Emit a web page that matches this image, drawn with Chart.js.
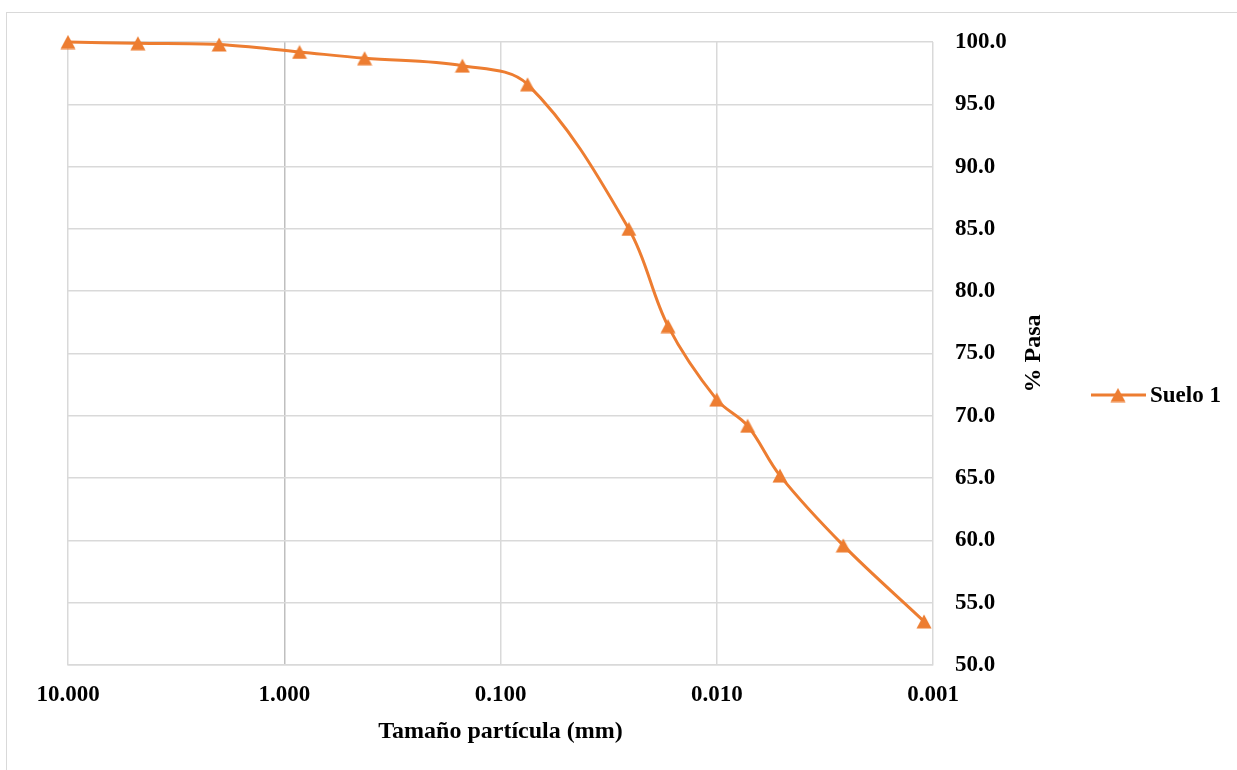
<!DOCTYPE html>
<html>
<head>
<meta charset="utf-8">
<title>Curva granulométrica</title>
<script src="https://cdn.jsdelivr.net/npm/chart.js@4.4.1/dist/chart.umd.min.js"></script>
<style>
  html, body { margin: 0; padding: 0; background: #ffffff; overflow: hidden; }
  #wrap { position: relative; width: 1237px; height: 770px; }
  #frame { position: absolute; left: 6px; top: 12px; width: 1400px; height: 900px;
           border: 1px solid #d9d9d9; box-sizing: border-box; pointer-events: none; }
  #chart { position: absolute; left: 0; top: 0; }
</style>
</head>
<body>
<div id="wrap">
  <div id="frame"></div>
  <canvas id="chart" width="1237" height="770"></canvas>
</div>
<script>
// Particle size (mm) and percent passing for the soil sample
const seriesName = 'Suelo 1';
const particleSize = [10, 4.75, 2.0, 0.85, 0.425, 0.15, 0.075, 0.0255, 0.0168, 0.0100, 0.0072, 0.0051, 0.0026, 0.0011];
const percentPassing = [100.0, 99.9, 99.8, 99.2, 98.7, 98.1, 96.6, 85.0, 77.2, 71.3, 69.2, 65.2, 59.6, 53.5];
const xTickValues = [10, 1, 0.1, 0.01, 0.001];
const yMin = 50, yMax = 100, yStep = 5;

const xTitle = 'Tamaño partícula (mm)';
const yTitle = '% Pasa';

const ORANGE = '#ED7D31';
const GRID = '#d9d9d9';
const FONT = "'Times New Roman', 'Liberation Serif', serif";

// Triangle marker centred in its bounding box
function makeTriangle(w, h) {
  const c = document.createElement('canvas');
  c.width = w; c.height = h;
  const g = c.getContext('2d');
  g.fillStyle = ORANGE;
  g.beginPath();
  g.moveTo(w / 2, 0.5);
  g.lineTo(w - 0.5, h - 0.5);
  g.lineTo(0.5, h - 0.5);
  g.closePath();
  g.fill();
  return c;
}
const marker = makeTriangle(16, 15);

// Rotated y title and the series key on the right
const extras = {
  id: 'extras',
  afterDraw(chart) {
    const ctx = chart.ctx;
    const area = chart.chartArea;
    ctx.save();
    ctx.fillStyle = '#000';
    ctx.font = 'bold 24px ' + FONT;
    ctx.textAlign = 'center';
    ctx.textBaseline = 'middle';
    ctx.translate(1034, (area.top + area.bottom) / 2);
    ctx.rotate(-Math.PI / 2);
    ctx.fillText(yTitle, 0, 0);
    ctx.restore();

    ctx.save();
    const ly = 395;
    ctx.strokeStyle = ORANGE;
    ctx.lineWidth = 3;
    ctx.beginPath();
    ctx.moveTo(1091, ly);
    ctx.lineTo(1146, ly);
    ctx.stroke();
    ctx.drawImage(marker, 1118 - marker.width / 2, ly - marker.height / 2);
    ctx.fillStyle = '#000';
    ctx.font = 'bold 23px ' + FONT;
    ctx.textAlign = 'left';
    ctx.textBaseline = 'middle';
    ctx.fillText(seriesName, 1150, ly + 1);
    ctx.restore();
  }
};

new Chart(document.getElementById('chart'), {
  type: 'line',
  data: {
    datasets: [{
      label: seriesName,
      data: particleSize.map((x, i) => ({ x: x, y: percentPassing[i] })),
      borderColor: ORANGE,
      backgroundColor: ORANGE,
      borderWidth: 3,
      tension: 0.35,
      pointStyle: marker,
      pointRadius: 7,
      pointHoverRadius: 7,
      clip: false
    }]
  },
  options: {
    responsive: false,
    animation: false,
    events: [],
    layout: { padding: { left: 68, top: 42, right: 174, bottom: 0 } },
    plugins: { legend: { display: false }, tooltip: { enabled: false } },
    scales: {
      x: {
        type: 'logarithmic',
        position: 'bottom',
        reverse: true,
        min: 0.001,
        max: 10,
        afterBuildTicks: s => { s.ticks = xTickValues.map(v => ({ value: v, major: true })); },
        afterFit: s => { s.height = 105; },
        ticks: {
          autoSkip: false,
          maxRotation: 0,
          padding: 16,
          color: '#000',
          font: { family: FONT, size: 23, weight: 'bold' },
          callback: v => Number(v).toFixed(3)
        },
        grid: {
          drawTicks: false,
          lineWidth: 1.5,
          color: c => (c.tick && c.tick.value === 1 ? '#bfbfbf' : GRID)
        },
        border: { display: true, color: GRID, width: 1.5 },
        title: {
          display: true,
          text: xTitle,
          color: '#000',
          font: { family: FONT, size: 24, weight: 'bold' },
          padding: { top: 0, bottom: 24 }
        }
      },
      y: {
        position: 'right',
        min: yMin,
        max: yMax,
        afterFit: s => { s.width = 130; },
        ticks: {
          stepSize: yStep,
          padding: 22,
          color: '#000',
          font: { family: FONT, size: 23, weight: 'bold' },
          callback: v => Number(v).toFixed(1)
        },
        grid: { drawTicks: false, lineWidth: 1.5, color: GRID },
        border: { display: false }
      }
    }
  },
  plugins: [extras]
});
</script>
</body>
</html>
